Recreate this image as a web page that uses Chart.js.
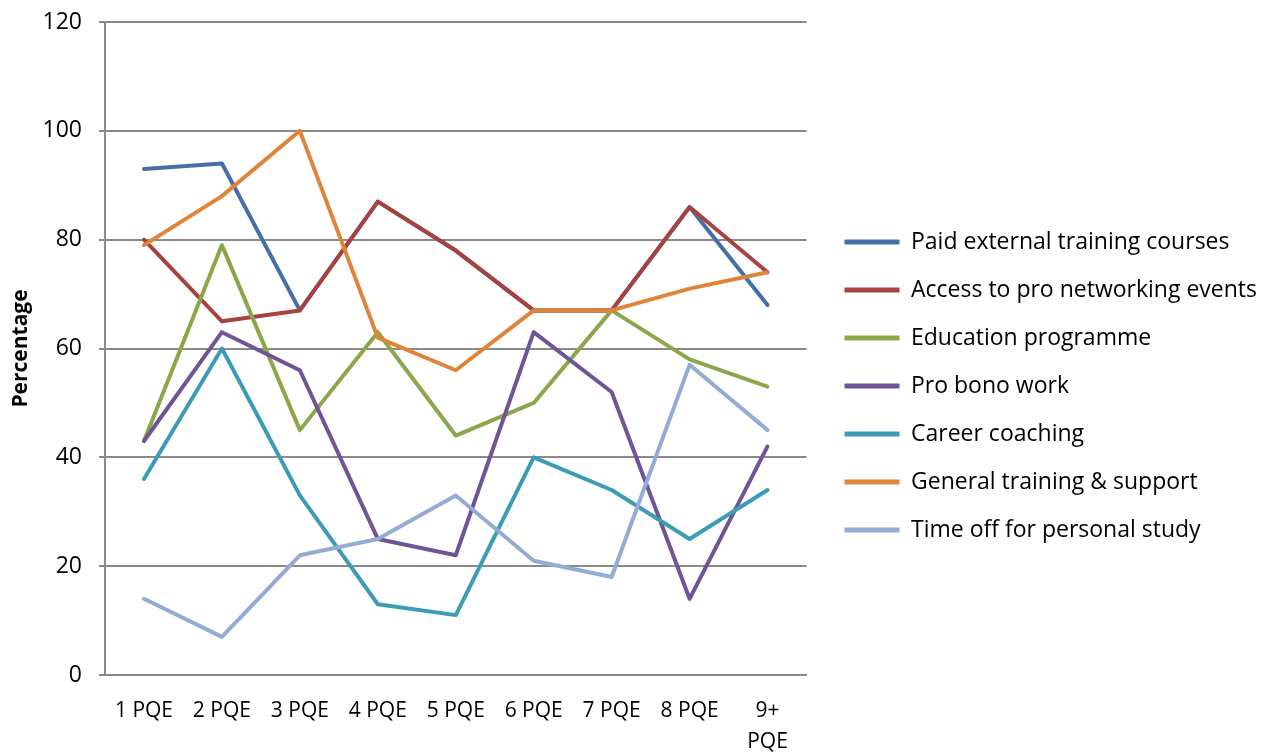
<!DOCTYPE html>
<html>
<head>
<meta charset="utf-8">
<script src="https://cdn.jsdelivr.net/npm/chart.js@4"></script>
<style>
  html, body { margin: 0; padding: 0; background: #fff; }
  #wrap { width: 1263px; height: 754px; }
</style>
</head>
<body>
<div id="wrap"><canvas id="pqeChart"></canvas></div>
<script>
const categories = ['1 PQE', '2 PQE', '3 PQE', '4 PQE', '5 PQE', '6 PQE', '7 PQE', '8 PQE', ['9+', 'PQE']];
const seriesNames = [
    'Paid external training courses',
    'Access to pro networking events',
    'Education programme',
    'Pro bono work',
    'Career coaching',
    'General training & support',
    'Time off for personal study'
];
const paidExternal = [93, 94, 67, 87, 78, 67, 67, 86, 68];
const networking = [80, 65, 67, 87, 78, 67, 67, 86, 74];
const education = [43, 79, 45, 63, 44, 50, 67, 58, 53];
const proBono = [43, 63, 56, 25, 22, 63, 52, 14, 42];
const coaching = [36, 60, 33, 13, 11, 40, 34, 25, 34];
const generalTraining = [79, 88, 100, 62, 56, 67, 67, 71, 74];
const timeOff = [14, 7, 22, 25, 33, 21, 18, 57, 45];
const yTicks = [0, 20, 40, 60, 80, 100, 120];

const seriesValues = [paidExternal, networking, education, proBono, coaching, generalTraining, timeOff];
const seriesColors = ['#4470a8', '#a8423f', '#8aa84b', '#6f5596', '#3d9cb5', '#e0843a', '#92acd4'];

const gridColor = '#8a8a8a';
const font = "'Open Sans', sans-serif";

// leave a gap between the plot and the legend (Chart.js puts the legend flush to the plot)
const legendGap = {
    id: 'legendGap',
    afterInit(chart) {
        const legend = chart.legend;
        const baseFit = legend.fit;
        const baseDraw = legend.draw;
        legend.fit = function () {
            baseFit.call(this);
            this.width += 9;
        };
        legend.draw = function () {
            const c = this.ctx;
            c.save();
            c.translate(13, -2);
            baseDraw.call(this);
            c.restore();
        };
    }
};

const ctx = document.getElementById('pqeChart').getContext('2d');
const pqeChart = new Chart(ctx, {
    type: 'line',
    data: {
        labels: categories,
        datasets: seriesNames.map((name, i) => ({
            label: name,
            data: seriesValues[i],
            borderColor: seriesColors[i],
            backgroundColor: seriesColors[i],
            borderWidth: 4,
            pointRadius: 0,
            tension: 0,
            borderCapStyle: 'round',
            borderJoinStyle: 'round',
            order: seriesNames.length - i   // later series drawn on top, like Excel
        }))
    },
    plugins: [legendGap],
    options: {
        responsive: true,
        maintainAspectRatio: false,
        animation: false,
        layout: { padding: { left: 8, top: 22, right: 0, bottom: 0 } },
        plugins: {
            tooltip: { enabled: false },
            legend: {
                position: 'right',
                maxWidth: 600,
                labels: {
                    color: '#000',
                    font: { family: font, size: 23 },
                    boxWidth: 55,
                    boxHeight: 5,
                    padding: 25,
                    sort: (a, b) => a.datasetIndex - b.datasetIndex,
                    generateLabels: (chart) => {
                        const items = Chart.defaults.plugins.legend.labels.generateLabels(chart);
                        items.forEach(item => { item.lineWidth = 0; });
                        return items;
                    }
                }
            }
        },
        scales: {
            x: {
                offset: true,
                grid: { display: false, drawTicks: false },
                border: { display: true, color: gridColor, width: 2 },
                ticks: {
                    color: '#000',
                    font: { family: font, size: 21, lineHeight: 1.5 },
                    padding: 20,
                    maxRotation: 0,
                    autoSkip: false
                },
                afterFit: (scale) => { scale.height = 79; }
            },
            y: {
                min: 0,
                max: 120,
                afterBuildTicks: (scale) => { scale.ticks = yTicks.map(v => ({ value: v })); },
                grid: { color: gridColor, lineWidth: 2, tickLength: 6 },
                border: { display: true, color: gridColor, width: 2 },
                ticks: {
                    color: '#000',
                    font: { family: font, size: 23 },
                    padding: 17
                },
                title: {
                    display: true,
                    text: 'Percentage',
                    color: '#000',
                    font: { family: font, size: 21, weight: 'bold' },
                    padding: 0
                },
                afterFit: (scale) => {
                    scale.width = 97;
                    scale.paddingTop = 0;
                    scale.paddingBottom = 0;
                }
            }
        }
    }
});
</script>
</body>
</html>
